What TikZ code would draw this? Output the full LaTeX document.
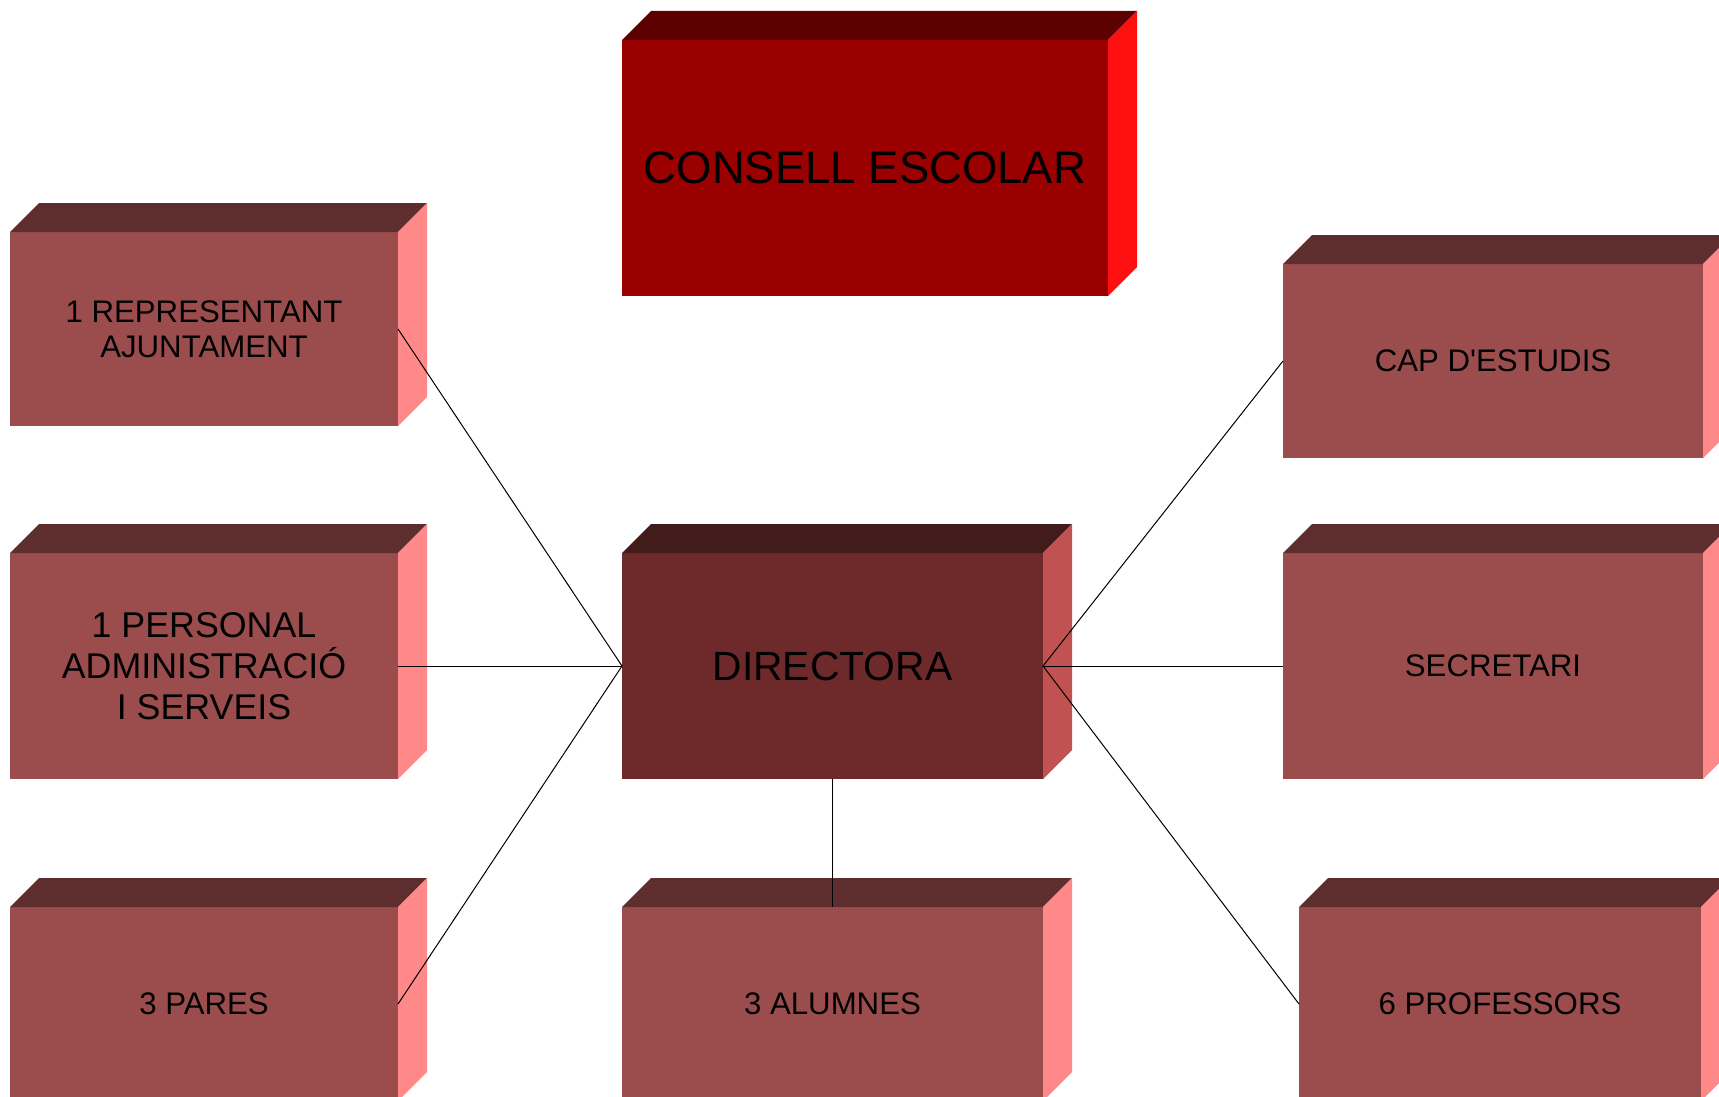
\documentclass[tikz,border=0pt]{standalone}
\usepackage{fontspec}
\setmainfont{Liberation Sans}[Ligatures=TeXOff]

% face colours of the three kinds of blocks
\definecolor{boxfront}{RGB}{155,77,77}
\definecolor{boxtop}{RGB}{94,45,46}
\definecolor{boxside}{RGB}{255,136,136}
\definecolor{dirfront}{RGB}{110,41,42}
\definecolor{dirtop}{RGB}{66,27,27}
\definecolor{dirside}{RGB}{192,82,82}
\definecolor{cefront}{RGB}{155,0,0}
\definecolor{cetop}{RGB}{92,0,0}
\definecolor{ceside}{RGB}{255,16,16}

\tikzset{
  face/.style={rectangle, inner sep=0pt, outer sep=0pt, anchor=north west,
               align=center, text=black},
  block/.style n args={3}{face, fill=#1, minimum width=#2, minimum height=#3},
  smalltext/.style={font=\fontsize{15.6}{17.5}\selectfont},
  midtext/.style={font=\fontsize{17.9}{20.5}\selectfont},
  bigtext/.style={font=\fontsize{20.4}{24}\selectfont},
  link/.style={draw=black, line width=0.5pt},
}

\begin{document}
\begin{tikzpicture}[x=0.5pt, y=-0.5pt]
\useasboundingbox (0,0) rectangle (1719,1097);
\clip (0,0) rectangle (1719,1097);

% front faces
\node[block={cefront}{243pt}{128pt}, font=\fontsize{22.75}{27}\selectfont]
  (ce) at (622,40) {CONSELL ESCOLAR};
\node[block={boxfront}{194pt}{97pt}, smalltext]
  (rep) at (10,232) {1 REPRESENTANT\\AJUNTAMENT};
\node[block={boxfront}{194pt}{113pt}, midtext]
  (pas) at (10,553) {1 PERSONAL\\ADMINISTRACIÓ\\I SERVEIS};
\node[block={boxfront}{194pt}{97pt}, smalltext]
  (par) at (10,907) {3 PARES};
\node[block={dirfront}{210.5pt}{113pt}, bigtext]
  (dir) at (622,553) {DIRECTORA};
\node[block={boxfront}{210.5pt}{97pt}, smalltext]
  (alu) at (622,907) {3 ALUMNES};
\node[block={boxfront}{210pt}{97pt}, smalltext]
  (cap) at (1283,264) {CAP D'ESTUDIS};
\node[block={boxfront}{210pt}{113pt}, smalltext]
  (sec) at (1283,553) {SECRETARI};
\node[block={boxfront}{201pt}{97pt}, smalltext]
  (pro) at (1299,907) {6 PROFESSORS};

% top and side faces give each block its depth
\foreach \n/\t/\s in {ce/cetop/ceside, rep/boxtop/boxside, pas/boxtop/boxside,
    par/boxtop/boxside, dir/dirtop/dirside, alu/boxtop/boxside,
    cap/boxtop/boxside, sec/boxtop/boxside, pro/boxtop/boxside} {
  \fill[\t] (\n.north west) -- ++(29,-29)
    -- ([shift={(29,-29)}]\n.north east) -- (\n.north east) -- cycle;
  \fill[\s] (\n.north east) -- ++(29,-29)
    -- ([shift={(29,-29)}]\n.south east) -- (\n.south east) -- cycle;
}

% connectors
\draw[link] (rep.east) -- (dir.west);
\draw[link] (pas.east) -- (dir.west);
\draw[link] (par.east) -- (dir.west);
\draw[link] (dir.south) -- (alu.north);
\draw[link] (dir.east) -- (cap.west);
\draw[link] (dir.east) -- (sec.west);
\draw[link] (dir.east) -- (pro.west);
\end{tikzpicture}
\end{document}
